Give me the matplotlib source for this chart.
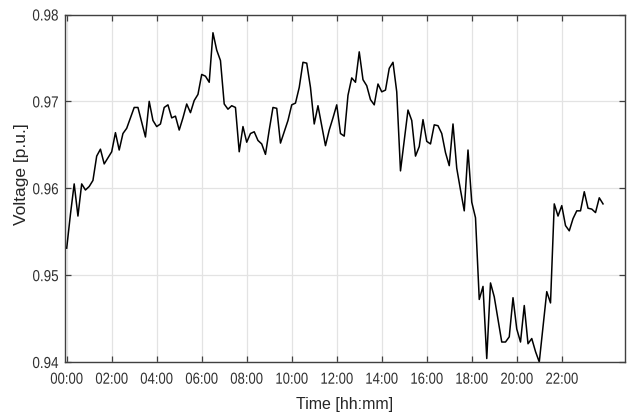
import numpy as np
import matplotlib
matplotlib.use("Agg")
import matplotlib.pyplot as plt
from matplotlib.patheffects import AbstractPathEffect
from matplotlib.transforms import Affine2D

# bus voltage over one day, 10-minute samples starting 00:00
sample_minutes = 10
voltage = [
    0.9531, 0.9570, 0.9605, 0.9568, 0.9605, 0.9598, 0.9602, 0.9609, 0.9637, 0.9645, 0.9628, 0.9635,
    0.9642, 0.9664, 0.9644, 0.9663, 0.9669, 0.9681, 0.9693, 0.9693, 0.9676, 0.9659, 0.9700, 0.9678,
    0.9671, 0.9674, 0.9693, 0.9696, 0.9681, 0.9683, 0.9667, 0.9681, 0.9697, 0.9687, 0.9701, 0.9708,
    0.9731, 0.9729, 0.9722, 0.9779, 0.9759, 0.9747, 0.9697, 0.9691, 0.9695, 0.9693, 0.9642, 0.9671,
    0.9653, 0.9663, 0.9665, 0.9655, 0.9651, 0.9639, 0.9667, 0.9693, 0.9692, 0.9652, 0.9665, 0.9678,
    0.9696, 0.9698, 0.9716, 0.9745, 0.9744, 0.9716, 0.9674, 0.9695, 0.9672, 0.9649, 0.9667, 0.9681,
    0.9696, 0.9663, 0.9660, 0.9707, 0.9727, 0.9722, 0.9757, 0.9725, 0.9718, 0.9702, 0.9696, 0.9720,
    0.9711, 0.9713, 0.9738, 0.9745, 0.9711, 0.9620, 0.9655, 0.9690, 0.9678, 0.9637, 0.9648, 0.9679,
    0.9654, 0.9651, 0.9673, 0.9672, 0.9663, 0.9641, 0.9626, 0.9674, 0.9623, 0.9598, 0.9574, 0.9644,
    0.9584, 0.9566, 0.9472, 0.9487, 0.9404, 0.9491, 0.9475, 0.9449, 0.9423, 0.9423, 0.9429, 0.9474,
    0.9438, 0.9423, 0.9465, 0.9421, 0.9427, 0.9412, 0.9400, 0.9441, 0.9481, 0.9468, 0.9582, 0.9568,
    0.9580, 0.9557, 0.9551, 0.9565, 0.9574, 0.9574, 0.9596, 0.9577, 0.9576, 0.9572, 0.9589, 0.9582,
]
tick_hours = [0, 2, 4, 6, 8, 10, 12, 14, 16, 18, 20, 22]
tick_labels = ["%02d:00" % h for h in tick_hours]
y_ticks = [0.94, 0.95, 0.96, 0.97, 0.98]

hours = np.arange(len(voltage)) * sample_minutes / 60.0


class Squeeze(AbstractPathEffect):
    """Draw text narrower, keeping one edge (or the centre) in place."""

    def __init__(self, sx, anchor="center"):
        super().__init__()
        self.sx = sx
        self.anchor = anchor

    def draw_path(self, renderer, gc, tpath, affine, rgbFace=None):
        ext = tpath.get_extents()
        if self.anchor == "right":
            cx = ext.x1
        elif self.anchor == "left":
            cx = ext.x0
        else:
            cx = 0.5 * (ext.x0 + ext.x1)
        t = Affine2D().translate(-cx, 0).scale(self.sx, 1).translate(cx, 0)
        renderer.draw_path(gc, tpath, t + affine, rgbFace)


font = ["Liberation Sans", "DejaVu Sans"]
axis_color = "#404040"

fig = plt.figure(figsize=(6.33, 4.17), dpi=100)
ax = fig.add_axes([65 / 633, 55 / 417, 560 / 633, 347.5 / 417])

ax.plot(hours, voltage, color="black", linewidth=1.1)

ax.set_xlim(-0.075, 24.81)
ax.set_ylim(0.94, 0.98)
ax.set_xticks(tick_hours)
ax.set_xticklabels(tick_labels)
ax.set_yticks(y_ticks)
ax.set_yticklabels(["%.2f" % v for v in y_ticks])

ax.grid(True, color="#e3e3e3", linewidth=0.9)
ax.set_axisbelow(True)

for spine in ax.spines.values():
    spine.set_color(axis_color)
    spine.set_linewidth(1.0)

ax.tick_params(axis="both", direction="in", length=4.5, width=0.9, color=axis_color,
               top=True, right=True, labelcolor="#303030", labelsize=11.5)
ax.tick_params(axis="x", pad=7)
ax.tick_params(axis="y", pad=4.5)
for lbl in ax.get_xticklabels():
    lbl.set_family(font)
    lbl.set_path_effects([Squeeze(0.82, "center")])
for lbl in ax.get_yticklabels():
    lbl.set_family(font)
    lbl.set_path_effects([Squeeze(0.84, "right")])

ax.set_xlabel("Time [hh:mm]", fontsize=11.5, family=font, color="#262626")
ax.set_ylabel("Voltage [p.u.]", fontsize=12.5, family=font, color="#262626")
ax.xaxis.set_label_coords(0.5, -0.102)
ax.yaxis.set_label_coords(-0.064, 0.54)

fig.savefig("out.png", dpi=100)
